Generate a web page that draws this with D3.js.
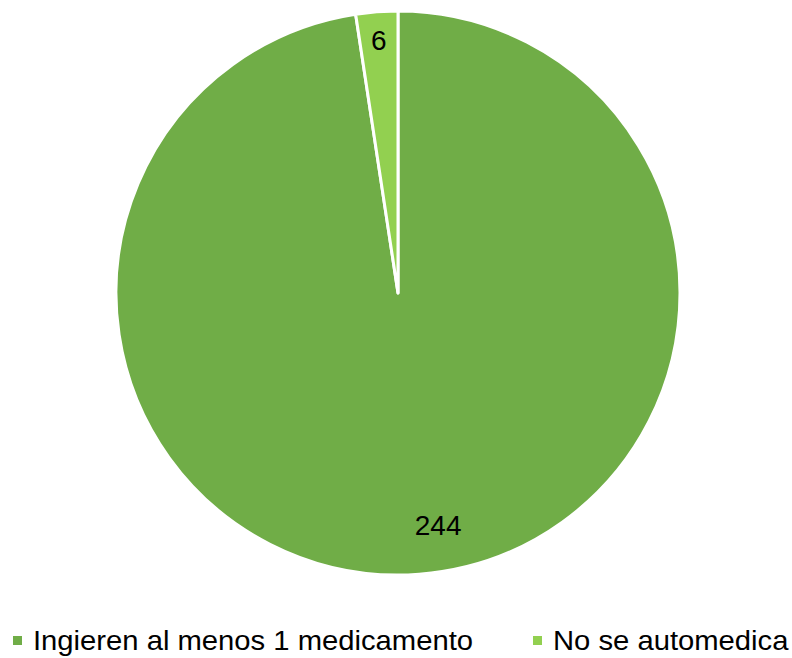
<!DOCTYPE html>
<html>
<head>
<meta charset="utf-8">
<script src="https://cdn.jsdelivr.net/npm/d3@7"></script>
<style>
  html, body { margin: 0; padding: 0; background: #fff; }
  svg { display: block; }
  text { font-family: "Liberation Sans", Arial, sans-serif; }
</style>
</head>
<body>
<svg id="chart" width="792" height="658"></svg>
<script>
// Data
const categories = ["Ingieren al menos 1 medicamento", "No se automedica"];
const values = [244, 6];
const colors = ["#70AD47", "#92D050"];

// Layout
const W = 792, H = 658;
const cx = 398, cy = 293, R = 282;
// label placement (radius fraction, angle shift in radians)
const labelPlacement = [
  { rf: 0.835, shift: -0.096 },
  { rf: 0.90, shift: 0 }
];

const svg = d3.select("#chart");
const g = svg.append("g").attr("transform", `translate(${cx},${cy})`);

const pie = d3.pie().sort(null).value(d => d)(values);
const arc = d3.arc().innerRadius(0).outerRadius(R);

g.selectAll("path.slice")
  .data(pie)
  .enter().append("path")
  .attr("class", "slice")
  .attr("d", arc)
  .attr("fill", (d, i) => colors[i])
  .attr("stroke", "#fff")
  .attr("stroke-width", 3)
  .attr("stroke-linejoin", "round");

g.selectAll("text.lbl")
  .data(pie)
  .enter().append("text")
  .attr("class", "lbl")
  .attr("transform", (d, i) => {
    const p = labelPlacement[i];
    const mid = (d.startAngle + d.endAngle) / 2 + p.shift;
    const rr = R * p.rf;
    return `translate(${rr * Math.sin(mid)},${-rr * Math.cos(mid)})`;
  })
  .attr("text-anchor", "middle")
  .attr("dy", "0.36em")
  .attr("font-size", 28)
  .attr("fill", "#000")
  .text(d => d.data);

// Legend
const legendX = [13, 533];
const legY = 650;
const leg = svg.append("g");
categories.forEach((c, i) => {
  leg.append("rect")
    .attr("x", legendX[i]).attr("y", legY - 14)
    .attr("width", 9).attr("height", 9)
    .attr("fill", colors[i]);
  leg.append("text")
    .attr("transform", `translate(${legendX[i] + 20},${legY}) scale(1.063,1)`)
    .attr("font-size", 27.5)
    .attr("fill", "#000")
    .text(c);
});
</script>
</body>
</html>
